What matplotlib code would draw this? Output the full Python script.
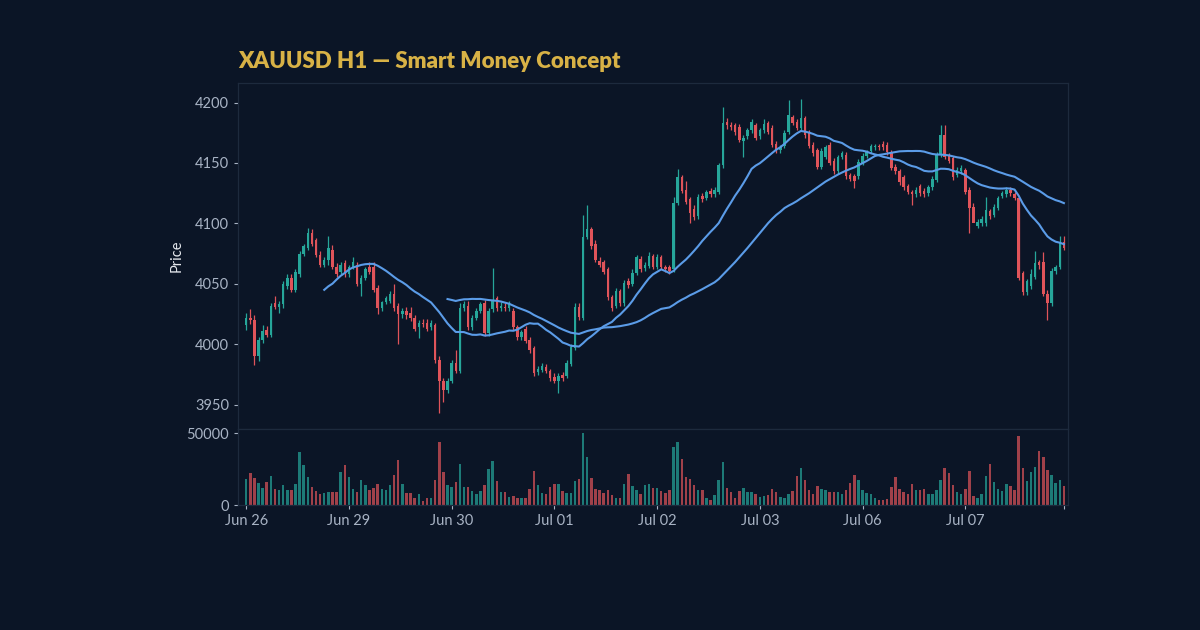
import matplotlib
matplotlib.use("Agg")
import matplotlib.pyplot as plt
import numpy as np
import pandas as pd

# hourly candles (index 0 = first bar of Jun 26)
opens = [4016, 4022, 4020, 3990, 4004, 4012, 4008, 4034, 4031, 4033,
         4048, 4055, 4045, 4058, 4075, 4080, 4092, 4086, 4074, 4066,
         4070, 4078, 4064, 4060, 4067, 4058, 4064, 4066, 4050, 4055,
         4064, 4064, 4047, 4030, 4035, 4036, 4042, 4032, 4025, 4028,
         4026, 4022, 4014, 4018, 4018, 4014, 4016, 3987, 3970, 3962,
         3970, 3985, 3978, 4030, 4032, 4014, 4022, 4028, 4034, 4009,
         4029, 4038, 4030, 4031, 4030, 4028, 4014, 4006, 4013, 4004,
         3997, 3977, 3979, 3981, 3978, 3973, 3970, 3975, 3974, 3984,
         3997, 4031, 4022, 4089, 4095, 4083, 4069, 4068, 4062, 4039,
         4032, 4044, 4034, 4052, 4050, 4059, 4071, 4063, 4065, 4073,
         4064, 4072, 4064, 4064, 4062, 4117, 4138, 4128, 4120, 4112,
         4106, 4123, 4121, 4127, 4124, 4126, 4148, 4184, 4181, 4181,
         4180, 4168, 4172, 4177, 4181, 4172, 4177, 4183, 4179, 4166,
         4161, 4164, 4176, 4188, 4184, 4179, 4187, 4175, 4165, 4161,
         4147, 4155, 4165, 4152, 4143, 4155, 4157, 4140, 4139, 4139,
         4150, 4156, 4160, 4163, 4164, 4166, 4165, 4159, 4147, 4143,
         4138, 4131, 4126, 4124, 4131, 4127, 4125, 4130, 4136, 4157,
         4173, 4156, 4154, 4140, 4143, 4144, 4128, 4114, 4098, 4100,
         4100, 4110, 4107, 4113, 4123, 4124, 4128, 4124, 4121, 4059,
         4043, 4048, 4056, 4068, 4068, 4042, 4034, 4061, 4064, 4085]
highs = [4026, 4029, 4024, 4006, 4016, 4015, 4034, 4040, 4036, 4052,
         4058, 4058, 4062, 4077, 4083, 4096, 4095, 4088, 4077, 4072,
         4090, 4082, 4067, 4068, 4070, 4066, 4072, 4068, 4057, 4064,
         4068, 4068, 4049, 4036, 4040, 4044, 4050, 4034, 4030, 4031,
         4031, 4024, 4020, 4021, 4021, 4020, 4018, 3990, 3972, 3972,
         3987, 3995, 4034, 4036, 4036, 4024, 4030, 4035, 4037, 4030,
         4063, 4040, 4035, 4034, 4036, 4030, 4016, 4012, 4015, 4006,
         3999, 3982, 3985, 3984, 3980, 3976, 3976, 3977, 3987, 4000,
         4034, 4034, 4107, 4115, 4097, 4086, 4072, 4070, 4064, 4041,
         4047, 4046, 4053, 4055, 4062, 4074, 4073, 4068, 4076, 4075,
         4075, 4074, 4066, 4066, 4122, 4145, 4140, 4135, 4122, 4115,
         4124, 4125, 4128, 4129, 4130, 4150, 4196, 4187, 4184, 4183,
         4182, 4173, 4179, 4186, 4183, 4179, 4186, 4185, 4181, 4168,
         4165, 4177, 4202, 4190, 4186, 4203, 4189, 4177, 4167, 4162,
         4162, 4165, 4167, 4154, 4157, 4160, 4159, 4142, 4141, 4153,
         4158, 4161, 4166, 4166, 4166, 4168, 4167, 4161, 4149, 4145,
         4140, 4133, 4128, 4130, 4133, 4129, 4132, 4139, 4159, 4181,
         4181, 4158, 4156, 4147, 4148, 4146, 4130, 4117, 4104, 4106,
         4122, 4112, 4116, 4123, 4127, 4130, 4130, 4126, 4122, 4061,
         4054, 4062, 4077, 4070, 4076, 4045, 4063, 4066, 4090, 4090]
lows = [4012, 4017, 3983, 3986, 4001, 4006, 4006, 4029, 4026, 4030,
        4046, 4043, 4043, 4056, 4073, 4078, 4081, 4072, 4064, 4064,
        4066, 4062, 4056, 4058, 4056, 4056, 4062, 4048, 4040, 4053,
        4058, 4043, 4025, 4028, 4033, 4034, 4028, 4000, 4022, 4021,
        4019, 4011, 4005, 4014, 4011, 4012, 3985, 3943, 3952, 3960,
        3968, 3976, 3976, 4028, 4012, 4012, 4020, 4026, 4007, 4007,
        4027, 4028, 4028, 4028, 4028, 4012, 4004, 4004, 4001, 3993,
        3974, 3975, 3977, 3976, 3970, 3968, 3960, 3970, 3972, 3982,
        3995, 4020, 4020, 4087, 4079, 4068, 4064, 4058, 4037, 4028,
        4030, 4032, 4032, 4047, 4048, 4057, 4060, 4061, 4063, 4062,
        4062, 4062, 4060, 4058, 4060, 4115, 4125, 4116, 4100, 4103,
        4104, 4118, 4119, 4122, 4122, 4124, 4146, 4178, 4177, 4173,
        4167, 4155, 4170, 4175, 4169, 4170, 4175, 4174, 4163, 4158,
        4158, 4162, 4174, 4181, 4177, 4177, 4171, 4162, 4156, 4145,
        4145, 4153, 4148, 4141, 4141, 4153, 4137, 4135, 4129, 4137,
        4148, 4154, 4158, 4161, 4161, 4161, 4157, 4144, 4141, 4132,
        4128, 4124, 4115, 4122, 4123, 4122, 4123, 4128, 4134, 4155,
        4153, 4150, 4136, 4138, 4141, 4124, 4092, 4105, 4096, 4098,
        4098, 4104, 4105, 4111, 4121, 4122, 4123, 4119, 4053, 4041,
        4041, 4046, 4054, 4062, 4040, 4020, 4032, 4058, 4062, 4078]
closes = [4022, 4020, 3990, 4004, 4011, 4008, 4032, 4031, 4033, 4050,
          4055, 4045, 4060, 4075, 4081, 4092, 4083, 4074, 4066, 4070,
          4080, 4064, 4058, 4066, 4058, 4064, 4068, 4050, 4055, 4062,
          4060, 4045, 4030, 4035, 4038, 4042, 4030, 4025, 4028, 4024,
          4022, 4013, 4018, 4017, 4013, 4018, 3987, 3970, 3962, 3970,
          3985, 3978, 4030, 4033, 4014, 4022, 4028, 4033, 4009, 4028,
          4037, 4030, 4032, 4030, 4033, 4014, 4006, 4010, 4003, 3995,
          3976, 3980, 3982, 3978, 3972, 3970, 3974, 3972, 3985, 3998,
          4031, 4023, 4089, 4095, 4081, 4070, 4066, 4060, 4039, 4030,
          4044, 4034, 4051, 4049, 4059, 4072, 4062, 4066, 4073, 4064,
          4072, 4064, 4062, 4061, 4117, 4138, 4127, 4118, 4109, 4105,
          4122, 4120, 4126, 4124, 4128, 4148, 4183, 4181, 4180, 4176,
          4169, 4171, 4177, 4184, 4171, 4177, 4182, 4176, 4165, 4160,
          4163, 4175, 4190, 4183, 4179, 4187, 4173, 4164, 4158, 4147,
          4160, 4163, 4150, 4143, 4155, 4158, 4139, 4137, 4135, 4151,
          4156, 4159, 4164, 4164, 4163, 4163, 4159, 4146, 4143, 4134,
          4130, 4126, 4124, 4128, 4125, 4124, 4130, 4137, 4157, 4173,
          4155, 4152, 4138, 4144, 4146, 4126, 4113, 4100, 4101, 4104,
          4111, 4106, 4114, 4121, 4125, 4128, 4125, 4121, 4055, 4043,
          4052, 4058, 4067, 4066, 4042, 4034, 4061, 4064, 4084, 4080]
volumes = [18100, 22500, 18800, 15600, 11900, 16300, 20500, 11600, 10500, 14000,
           10500, 10500, 14700, 37000, 27900, 19800, 12800, 9800, 7700, 8800,
           9300, 9300, 9300, 23000, 27900, 19500, 11600, 9300, 17400, 14000,
           10900, 12100, 14700, 11200, 10500, 14000, 20900, 31400, 14700, 8600,
           8600, 5300, 7700, 3300, 5300, 5300, 17900, 44200, 23300, 14400,
           12800, 16300, 28600, 12800, 12800, 9800, 8100, 9800, 14400, 25400,
           30500, 17200, 9100, 9300, 5600, 6700, 4900, 4900, 5100, 11600,
           24000, 14000, 8600, 7700, 12800, 14700, 14700, 10000, 8600, 8600,
           17000, 18100, 50500, 33700, 19100, 11600, 10500, 8800, 10900, 7000,
           5300, 5300, 14700, 21400, 13500, 10900, 7700, 14000, 15100, 12300,
           12300, 10000, 8600, 10500, 40700, 43700, 31900, 19800, 18100, 14000,
           10900, 10500, 4700, 3500, 7000, 17900, 29800, 12300, 9300, 5300,
           10000, 12300, 9100, 9100, 7700, 5800, 6300, 7000, 11600, 9300,
           5800, 5300, 8100, 10000, 20200, 25600, 17900, 10900, 7700, 13300,
           11600, 10500, 9300, 9300, 9300, 7700, 10500, 15600, 20900, 17900,
           10900, 8600, 7700, 5300, 3500, 3500, 4200, 12800, 19800, 11200,
           9300, 7700, 15100, 10900, 10500, 11200, 7700, 7700, 10500, 17400,
           26000, 22100, 14000, 9300, 8100, 11600, 24000, 6300, 5300, 7700,
           20200, 28600, 16300, 11600, 9800, 14700, 13300, 10900, 48400, 25600,
           16700, 22800, 26700, 37900, 33700, 24400, 20900, 15600, 17400, 13500]

tick_pos = [0, 25, 50, 75, 100, 125, 150, 175, 199]
tick_labels = ["Jun 26", "Jun 29", "Jun 30", "Jul 01", "Jul 02", "Jul 03", "Jul 06", "Jul 07", ""]

BG = "#0b1526"
UP = "#26a69a"
DOWN = "#e0545a"
TXT = "#a8b3c4"
EDGE = "#1d2a3d"

df = pd.DataFrame({"open": opens, "high": highs, "low": lows, "close": closes, "vol": volumes})
df["ma20"] = df["close"].rolling(20).mean()
df["ma50"] = df["close"].rolling(50).mean()
x = np.arange(len(df))
up = df["close"] >= df["open"]
colors = np.where(up, UP, DOWN)

plt.rcParams["font.family"] = ["Lato", "DejaVu Sans"]
fig = plt.figure(figsize=(12, 6.3), dpi=100, facecolor=BG)
ax = fig.add_axes([0.1983, 0.319, 0.6917, 0.549], facecolor=BG)
axv = fig.add_axes([0.1983, 0.198, 0.6917, 0.121], facecolor=BG, sharex=ax)

# wicks + bodies
ax.vlines(x, df["low"], df["high"], colors=colors, linewidth=0.9)
body = (df["close"] - df["open"]).abs().clip(lower=0.8)
bottom = np.minimum(df["open"], df["close"])
ax.bar(x, body, bottom=bottom, width=0.6, color=colors, linewidth=0)

ax.plot(x, df["ma20"], color="#5b9ce8", linewidth=1.5)
ax.plot(x, df["ma50"], color="#5b9ce8", linewidth=1.5)

axv.bar(x, df["vol"], width=0.6, color=colors, alpha=0.7, linewidth=0)

r = df["high"].max() - df["low"].min()
ax.set_ylim(df["low"].min() - 0.05 * r, df["high"].max() + 0.05 * r)
ax.set_xlim(-2, 200)
axv.set_ylim(0, 53000)
ax.set_yticks([3950, 4000, 4050, 4100, 4150, 4200])
axv.set_yticks([0, 50000])
axv.set_xticks(tick_pos)
axv.set_xticklabels(tick_labels)
ax.tick_params(axis="x", bottom=False, labelbottom=False)

for a in (ax, axv):
    a.tick_params(colors=TXT, labelsize=10.5, length=3, width=0.8)
    for s in a.spines.values():
        s.set_color(EDGE)
        s.set_linewidth(0.9)

ax.set_ylabel("Price", color="#e6e9ee", fontsize=10.5, labelpad=8)
fig.text(0.1983, 0.886, "XAUUSD H1 — Smart Money Concept", color="#d8b246",
         fontsize=16, fontweight="heavy", ha="left", va="bottom")

fig.savefig("out.png", dpi=100, facecolor=BG)
